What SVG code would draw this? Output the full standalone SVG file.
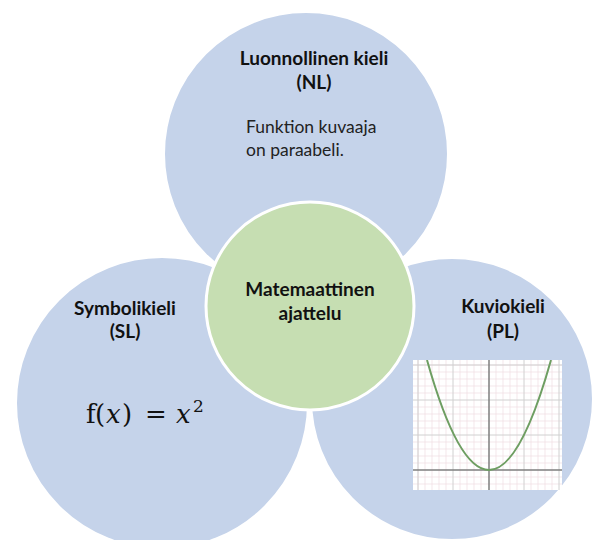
<svg xmlns="http://www.w3.org/2000/svg" width="595" height="540" viewBox="0 0 595 540">
<defs>
<style>
.blue{fill:#C5D3EA;stroke:#ffffff;stroke-width:2}
.green{fill:#C6DEB2;stroke:#ffffff;stroke-width:3}
.title{font-family:Lato,"Liberation Sans",sans-serif;font-weight:bold;font-size:19px;fill:#111111;text-anchor:middle}
.body{font-family:Lato,"Liberation Sans",sans-serif;font-size:17.5px;fill:#222222}
.math{font-family:"DejaVu Serif","Liberation Serif",serif;font-size:26px;fill:#111111}
.minor{stroke:#EFDDE3;stroke-width:0.7}
.major{stroke:#D0D0D0;stroke-width:1}
.axis{stroke:#7F7F7F;stroke-width:1.5}
</style>
<clipPath id="box"><rect x="413" y="360" width="149" height="130"/></clipPath>
</defs>
<rect width="595" height="540" fill="#ffffff"/>
<g id="nl">
<circle class="blue" cx="306" cy="154" r="142"/>
<text class="title" x="314" y="65">Luonnollinen kieli</text>
<text class="title" x="314" y="89">(NL)</text>
<text class="body" x="246" y="133">Funktion kuvaaja</text>
<text class="body" x="246" y="156">on paraabeli.</text>
</g>
<g id="sl">
<circle class="blue" cx="162" cy="403" r="146"/>
<text class="title" x="125" y="315">Symbolikieli</text>
<text class="title" x="125" y="338">(SL)</text>
<text class="math" y="423"><tspan x="86">f</tspan><tspan x="95">(</tspan><tspan x="106" font-style="italic">x</tspan><tspan x="122">)</tspan><tspan x="145">=</tspan><tspan x="176" font-style="italic">x</tspan><tspan x="193" font-size="17px" y="412">2</tspan></text>
</g>
<g id="pl">
<circle class="blue" cx="452" cy="399" r="141"/>
<text class="title" x="503" y="313">Kuviokieli</text>
<text class="title" x="503" y="338">(PL)</text>
<g id="graph">
<rect x="413" y="360" width="149" height="130" fill="#ffffff"/>
<g clip-path="url(#box)">
<path class="minor" d="M418 360V490M425 360V490M432 360V490M439 360V490M446 360V490M460 360V490M467 360V490M474 360V490M481 360V490M496 360V490M503 360V490M510 360V490M517 360V490M531 360V490M538 360V490M545 360V490M552 360V490M413 365H562M413 372H562M413 379H562M413 386H562M413 393H562M413 407H562M413 414H562M413 421H562M413 428H562M413 442H562M413 449H562M413 456H562M413 463H562M413 477H562M413 484H562"/>
<path class="major" d="M453 360V490M524 360V490M559 360V490M418 360V490M413 400H562M413 435H562M413 365H562"/>
<path class="axis" d="M489 360V490M413 470H562"/>
<path d="M427 360Q489 580 551 360" fill="none" stroke="#6E9E62" stroke-width="2"/>
</g>
</g>
</g>
<g id="center">
<circle class="green" cx="310" cy="306" r="104"/>
<text class="title" x="310" y="296">Matemaattinen</text>
<text class="title" x="310" y="320">ajattelu</text>
</g>
<g id="connectors"/>
</svg>
